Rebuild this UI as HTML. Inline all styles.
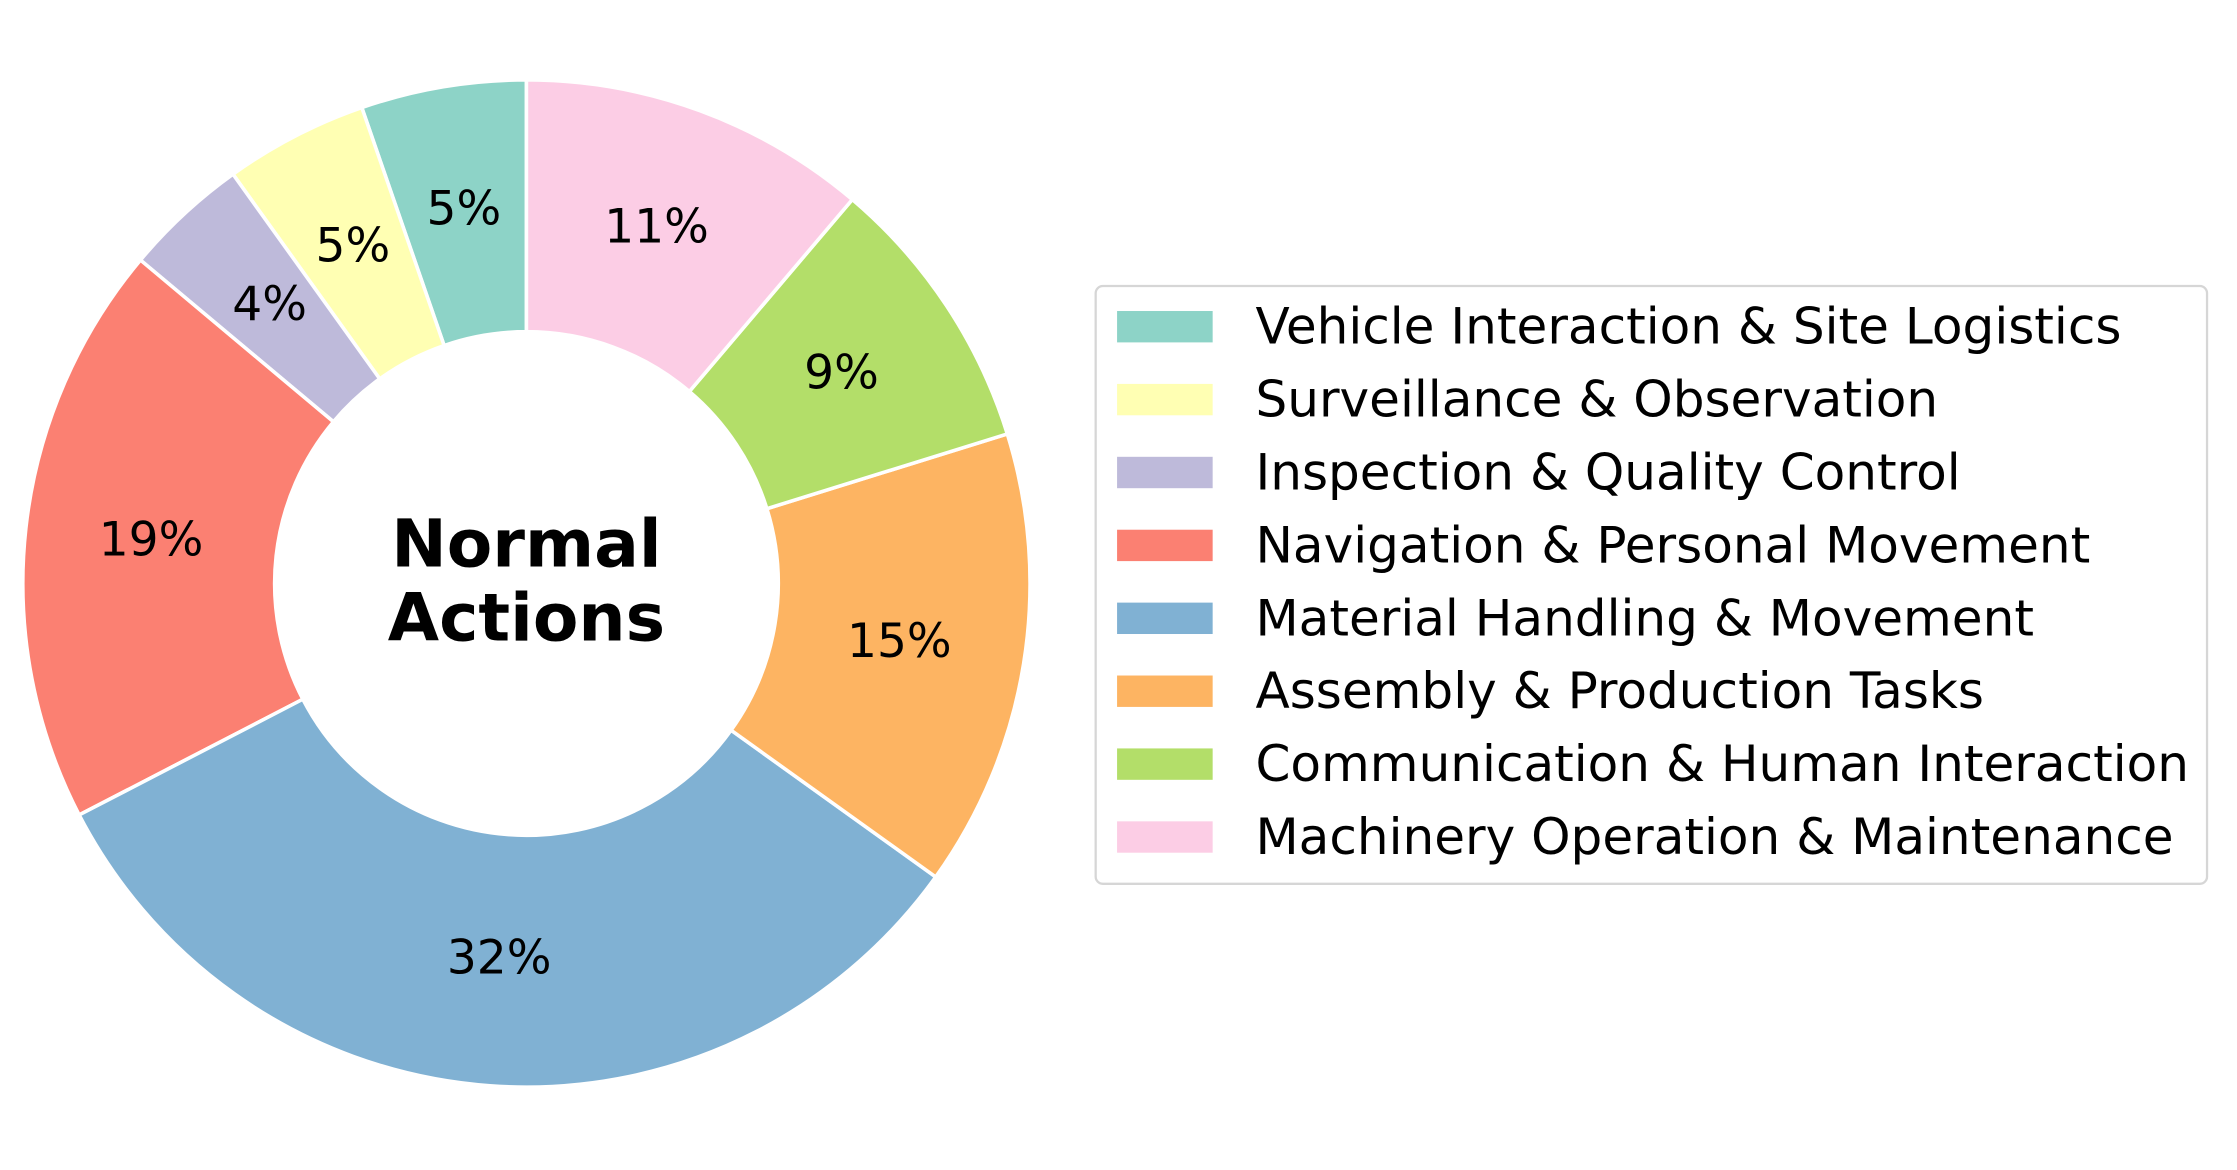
<!DOCTYPE html>
<html><head><meta charset="utf-8"><style>html,body{margin:0;padding:0;background:#fff}svg{display:block}text{font-family:"DejaVu Sans","Liberation Sans",sans-serif}</style></head>
<body>
<svg id="chart" width="2237" height="1170" viewBox="0 0 1568 820.1" xmlns="http://www.w3.org/2000/svg">
<rect width="1568" height="821" fill="#fff"/>
<g id="wedges"></g>
<g id="labels"></g>
<text x="369" y="381" text-anchor="middle" dominant-baseline="central" font-size="46.5" font-weight="bold">Normal</text>
<text x="369" y="433" text-anchor="middle" dominant-baseline="central" font-size="46.5" font-weight="bold">Actions</text>
<rect x="768" y="200.5" width="779" height="419" rx="5" fill="#fff" stroke="#d6d6d6" stroke-width="1.6"/>
<g id="legend"></g>
</svg>
<script>
const categories = ["Vehicle Interaction & Site Logistics","Surveillance & Observation","Inspection & Quality Control","Navigation & Personal Movement","Material Handling & Movement","Assembly & Production Tasks","Communication & Human Interaction","Machinery Operation & Maintenance"];
const values = [5.3, 4.6, 4.0, 18.7, 32.5, 14.7, 9.0, 11.2];
const percentLabels = ["5%","5%","4%","19%","32%","15%","9%","11%"];
const colors = ["#8dd3c7","#ffffb3","#bebada","#fb8072","#80b1d3","#fdb462","#b3de69","#fccde5"];

const NS = "http://www.w3.org/2000/svg";
const cx = 369, cy = 409, R = 353, r = 176.5;
const total = values.reduce((a,b)=>a+b,0);
const wg = document.getElementById('wedges'), lg = document.getElementById('labels'), leg = document.getElementById('legend');
function pt(rad, deg){ const a = deg*Math.PI/180; return [cx + rad*Math.cos(a), cy - rad*Math.sin(a)]; }
let start = 90;
values.forEach((v,i)=>{
  const sweep = v/total*360, end = start + sweep;
  const [x1,y1]=pt(R,start),[x2,y2]=pt(R,end),[x3,y3]=pt(r,end),[x4,y4]=pt(r,start);
  const large = sweep>180?1:0;
  const p = document.createElementNS(NS,'path');
  p.setAttribute('d',`M${x1},${y1} A${R},${R} 0 ${large} 0 ${x2},${y2} L${x3},${y3} A${r},${r} 0 ${large} 1 ${x4},${y4} Z`);
  p.setAttribute('fill',colors[i]); p.setAttribute('stroke','#fff'); p.setAttribute('stroke-width','2.5');
  
  
  wg.appendChild(p);
  const [lx,ly]=pt(R*0.75,(start+end)/2);
  const t = document.createElementNS(NS,'text');
  t.setAttribute('x',lx); t.setAttribute('y',ly-1.5); t.setAttribute('text-anchor','middle'); t.setAttribute('dominant-baseline','central'); t.setAttribute('font-size','33');
  t.textContent = percentLabels[i];
  
  
  lg.appendChild(t);
  start = end;
});
categories.forEach((c,i)=>{
  const y = 229 + i*51.1;
  const g = document.createElementNS(NS,'g');
  
  
  const rc = document.createElementNS(NS,'rect');
  rc.setAttribute('x',783); rc.setAttribute('y',y-11); rc.setAttribute('width',67); rc.setAttribute('height',22); rc.setAttribute('fill',colors[i]);
  const t = document.createElementNS(NS,'text');
  t.setAttribute('x',880); t.setAttribute('y',y); t.setAttribute('dominant-baseline','central'); t.setAttribute('font-size','35.1');
  t.textContent = c;
  g.appendChild(rc); g.appendChild(t); leg.appendChild(g);
});
</script>
</body></html>
